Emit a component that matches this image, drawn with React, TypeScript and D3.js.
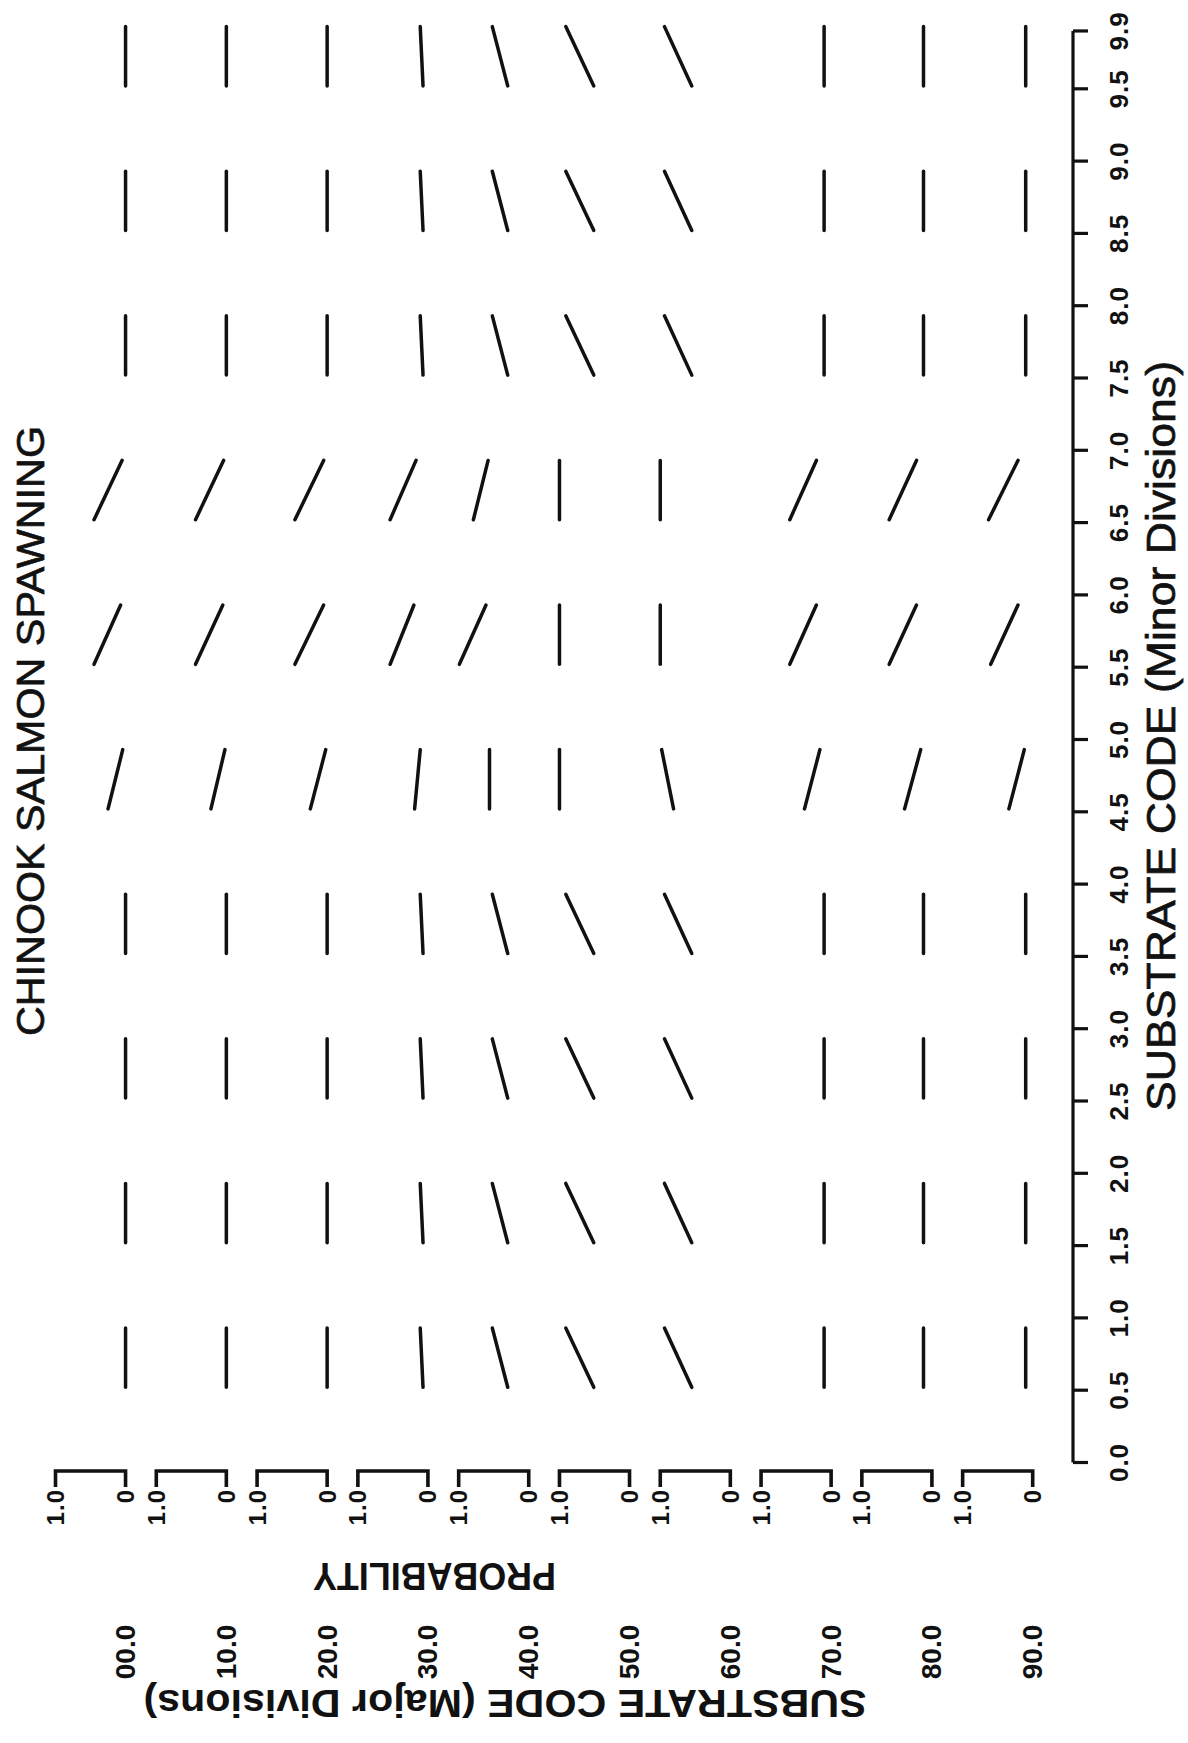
import React from 'react';
import * as d3 from 'd3';

// ---- data ----
const majorLabels = ['00.0', '10.0', '20.0', '30.0', '40.0', '50.0', '60.0', '70.0', '80.0', '90.0'];
const minorTicks = [0.0, 0.5, 1.0, 1.5, 2.0, 2.5, 3.0, 3.5, 4.0, 4.5, 5.0, 5.5, 6.0, 6.5, 7.0, 7.5, 8.0, 8.5, 9.0, 9.5, 9.9];
const minorTickLabels = ['0.0', '0.5', '1.0', '1.5', '2.0', '2.5', '3.0', '3.5', '4.0', '4.5', '5.0', '5.5', '6.0', '6.5', '7.0', '7.5', '8.0', '8.5', '9.0', '9.5', '9.9'];
const segmentStart = [0.52, 1.52, 2.52, 3.52, 4.52, 5.52, 6.52, 7.52, 8.52, 9.52];
const segmentEnd = [0.93, 1.93, 2.93, 3.93, 4.93, 5.93, 6.93, 7.93, 8.93, 9.93];
const probLabelTop = '1.0';
const probLabelBottom = '0';

// probability at segment start / end, one row per major division, one column per minor segment
const probStart = [
  [0, 0, 0, 0, 0.25, 0.45, 0.45, 0, 0, 0],
  [0, 0, 0, 0, 0.22, 0.44, 0.44, 0, 0, 0],
  [0, 0, 0, 0, 0.24, 0.46, 0.46, 0, 0, 0],
  [0.07, 0.07, 0.07, 0.07, 0.19, 0.54, 0.54, 0.07, 0.07, 0.07],
  [0.3, 0.3, 0.3, 0.3, 0.56, 0.99, 0.79, 0.3, 0.3, 0.3],
  [0.51, 0.51, 0.51, 0.51, 1, 1, 1, 0.51, 0.51, 0.51],
  [0.55, 0.55, 0.55, 0.55, 0.81, 1, 1, 0.55, 0.55, 0.55],
  [0.1, 0.1, 0.1, 0.1, 0.38, 0.59, 0.59, 0.1, 0.1, 0.1],
  [0.12, 0.12, 0.12, 0.12, 0.39, 0.61, 0.61, 0.12, 0.12, 0.12],
  [0.1, 0.1, 0.1, 0.1, 0.34, 0.6, 0.63, 0.1, 0.1, 0.1],
];
const probEnd = [
  [0, 0, 0, 0, 0.04, 0.07, 0.05, 0, 0, 0],
  [0, 0, 0, 0, 0.02, 0.05, 0.04, 0, 0, 0],
  [0, 0, 0, 0, 0.02, 0.05, 0.05, 0, 0, 0],
  [0.11, 0.11, 0.11, 0.11, 0.11, 0.2, 0.17, 0.11, 0.11, 0.11],
  [0.52, 0.52, 0.52, 0.52, 0.56, 0.61, 0.58, 0.52, 0.52, 0.52],
  [0.91, 0.91, 0.91, 0.91, 1, 1, 1, 0.91, 0.91, 0.91],
  [0.94, 0.94, 0.94, 0.94, 0.98, 1, 1, 0.94, 0.94, 0.94],
  [0.1, 0.1, 0.1, 0.1, 0.16, 0.21, 0.21, 0.1, 0.1, 0.1],
  [0.12, 0.12, 0.12, 0.12, 0.16, 0.22, 0.22, 0.12, 0.12, 0.12],
  [0.1, 0.1, 0.1, 0.1, 0.12, 0.21, 0.21, 0.1, 0.1, 0.1],
];

const titleText = 'CHINOOK SALMON SPAWNING';
const xTitle = 'SUBSTRATE CODE (Minor Divisions)';
const yTitle = 'SUBSTRATE CODE (Major Divisions)';
const probTitle = 'PROBABILITY';

// ---- layout (page is portrait; chart drawn landscape then rotated -90deg) ----
const W = 1188;
const H = 1743;
const FONT = "'Liberation Sans', Arial, Helvetica, sans-serif";
const INK = '#111';

export default function App() {
  const x = d3.scaleLinear().domain([0, 9.9]).range([280.5, 280.5 + 9.9 * 144.6]);
  const band = d3
    .scaleBand<string>()
    .domain(majorLabels)
    .range([55.5, 1032.7])
    .paddingInner(0.305)
    .paddingOuter(0);
  const bw = band.bandwidth();
  const axisY = 1073;
  const bracketX = 272;

  return (
    <svg
      width={W}
      height={H}
      viewBox={`0 0 ${W} ${H}`}
      style={{ position: 'absolute', left: 0, top: 0, background: '#fff' }}
      fontFamily={FONT}
    >
      <rect x={0} y={0} width={W} height={H} fill="#fff" />
      <g transform={`translate(0, ${H}) rotate(-90)`}>
        {/* title */}
        <text
          x={1012}
          y={31}
          textAnchor="middle"
          dominantBaseline="central"
          fontSize={38}
          textLength={610}
          lengthAdjust="spacingAndGlyphs"
          fill={INK}
          stroke={INK}
          strokeWidth={0.7}
        >
          {titleText}
        </text>

        {/* x axis */}
        <line x1={x(0)} x2={x(9.9)} y1={axisY} y2={axisY} stroke={INK} strokeWidth={3.2} />
        {minorTicks.map((t, i) => (
          <g key={'t' + i}>
            <line x1={x(t)} x2={x(t)} y1={axisY} y2={axisY + 15} stroke={INK} strokeWidth={3.2} />
            <text
              x={x(t)}
              y={1119}
              textAnchor="middle"
              dominantBaseline="central"
              fontSize={26}
              fontWeight="bold"
              letterSpacing={1}
              fill={INK}
            >
              {minorTickLabels[i]}
            </text>
          </g>
        ))}
        <text
          x={1007}
          y={1161}
          textAnchor="middle"
          dominantBaseline="central"
          fontSize={41}
          textLength={750}
          lengthAdjust="spacingAndGlyphs"
          fill={INK}
          stroke={INK}
          strokeWidth={0.7}
        >
          {xTitle}
        </text>

        {/* y axis: one probability bracket per major division */}
        {majorLabels.map((m, r) => {
          const y0 = band(m)!;
          const p = d3.scaleLinear().domain([0, 1]).range([y0 + bw, y0]);
          return (
            <g key={'r' + r}>
              <path
                d={`M${bracketX - 16},${p(1)} H${bracketX} V${p(0)} H${bracketX - 16}`}
                fill="none"
                stroke={INK}
                strokeWidth={3.6}
              />
              <text
                x={254}
                y={p(1)}
                textAnchor="end"
                dominantBaseline="central"
                fontSize={24}
                fontWeight="bold"
                letterSpacing={1}
                fill={INK}
              >
                {probLabelTop}
              </text>
              <text
                x={253}
                y={p(0)}
                textAnchor="end"
                dominantBaseline="central"
                fontSize={24}
                fontWeight="bold"
                fill={INK}
              >
                {probLabelBottom}
              </text>
              <text
                x={91}
                y={p(0)}
                textAnchor="middle"
                dominantBaseline="central"
                fontSize={28}
                fontWeight="bold"
                fill={INK}
              >
                {m}
              </text>
              {segmentStart.map((s, c) => (
                <line
                  key={'s' + c}
                  x1={x(s)}
                  y1={p(probStart[r][c])}
                  x2={x(segmentEnd[c])}
                  y2={p(probEnd[r][c])}
                  stroke={INK}
                  strokeWidth={3.5}
                  strokeLinecap="round"
                />
              ))}
            </g>
          );
        })}

        <text
          transform={`translate(167, 434.5) rotate(-90)`}
          textAnchor="middle"
          dominantBaseline="central"
          fontSize={39}
          fontWeight="bold"
          textLength={243}
          lengthAdjust="spacingAndGlyphs"
          fill={INK}
        >
          {probTitle}
        </text>
        <text
          transform={`translate(40, 505) rotate(-90)`}
          textAnchor="middle"
          dominantBaseline="central"
          fontSize={39}
          fontWeight="bold"
          textLength={723}
          lengthAdjust="spacingAndGlyphs"
          fill={INK}
        >
          {yTitle}
        </text>
      </g>
    </svg>
  );
}
